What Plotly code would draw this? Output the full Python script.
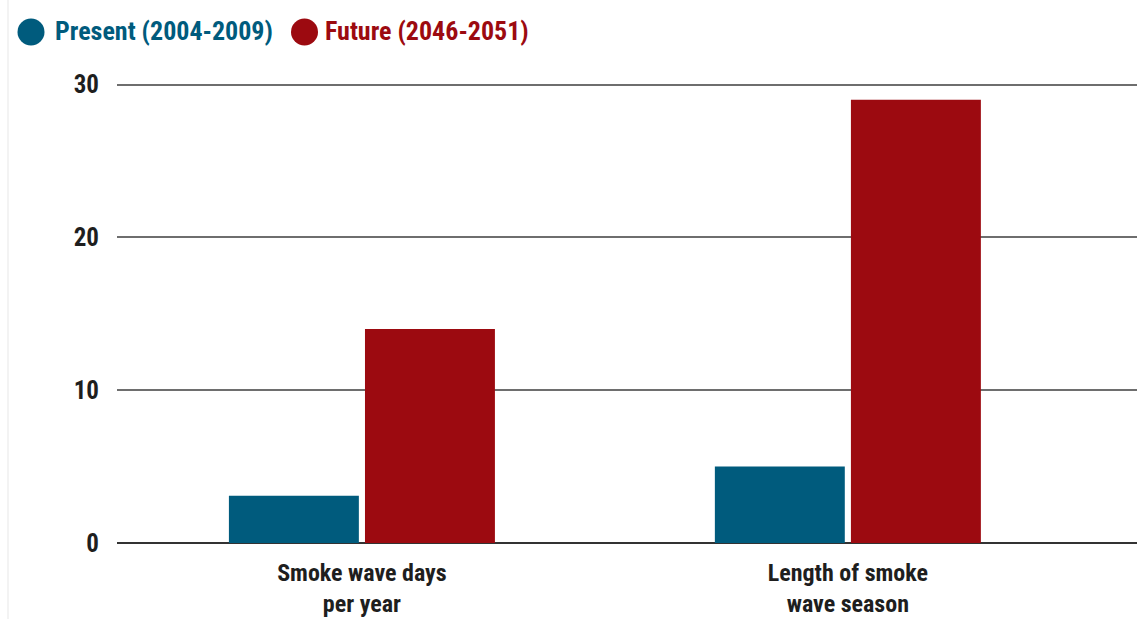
import plotly.graph_objects as go

categories = ["Smoke wave days<br>per year", "Length of smoke<br>wave season"]
present = [3.1, 5.0]
future = [14.0, 29.0]
series_names = ["Present (2004-2009)", "Future (2046-2051)"]
colors = ["#005B7D", "#9C0A10"]
y_ticks = [0, 10, 20, 30]

FONT = "Roboto Condensed, Liberation Sans Narrow, Arial Narrow, Roboto, sans-serif"

# layout geometry (pixels)
W, H = 1137, 619
ML, MR, MT, MB = 117, 0, 80, 76
PW, PH = W - ML - MR, H - MT - MB


def px_x(p):
    return (p - ML) / PW


def px_y(p):
    return (H - MB - p) / PH


fig = go.Figure()
for name, vals, col in zip(series_names, [present, future], colors):
    fig.add_trace(go.Bar(x=categories, y=vals, name=name, marker=dict(color=col, line=dict(width=0)),
                         showlegend=False))

# custom legend: circle + coloured bold label
legend_circle_px = [31, 304.5]
legend_text_px = [53, 323]
for name, col, cx, tx in zip(series_names, colors, legend_circle_px, legend_text_px):
    fig.add_shape(type="circle", xref="paper", yref="paper", xsizemode="pixel", ysizemode="pixel",
                  xanchor=px_x(cx), yanchor=px_y(32), x0=-13.5, x1=13.5, y0=-13.5, y1=13.5,
                  fillcolor=col, line=dict(width=0))
    fig.add_annotation(x=px_x(tx), y=px_y(31), xref="paper", yref="paper", xanchor="left", yanchor="middle",
                       text=f"<b>{name}</b>", showarrow=False,
                       font=dict(family=FONT, size=26, color=col))

# faint left border line
fig.add_shape(type="line", xref="paper", yref="paper", x0=px_x(8), x1=px_x(8), y0=px_y(619), y1=px_y(0),
              line=dict(color="#efefef", width=1.5))

fig.update_layout(
    width=W, height=H,
    margin=dict(l=ML, r=MR, t=MT, b=MB),
    paper_bgcolor="white", plot_bgcolor="white",
    barmode="group", bargap=0.44, bargroupgap=0.045,
    font=dict(family=FONT, size=24, color="#1e1e1e"),
    showlegend=False,
    xaxis=dict(range=[-0.504, 1.595], showgrid=False, showline=False, ticks="",
               ticklabelstandoff=13,
               tickfont=dict(family=FONT, size=24, color="#1e1e1e", weight="bold")),
    yaxis=dict(range=[0, 30.3], tickvals=y_ticks, showgrid=True, gridcolor="#6e6e6e", gridwidth=2,
               zeroline=True, zerolinecolor="#333", zerolinewidth=2, ticks="",
               ticklabelstandoff=17,
               tickfont=dict(family=FONT, size=25, color="#1e1e1e", weight="bold")),
)
fig.write_html("out.html")
